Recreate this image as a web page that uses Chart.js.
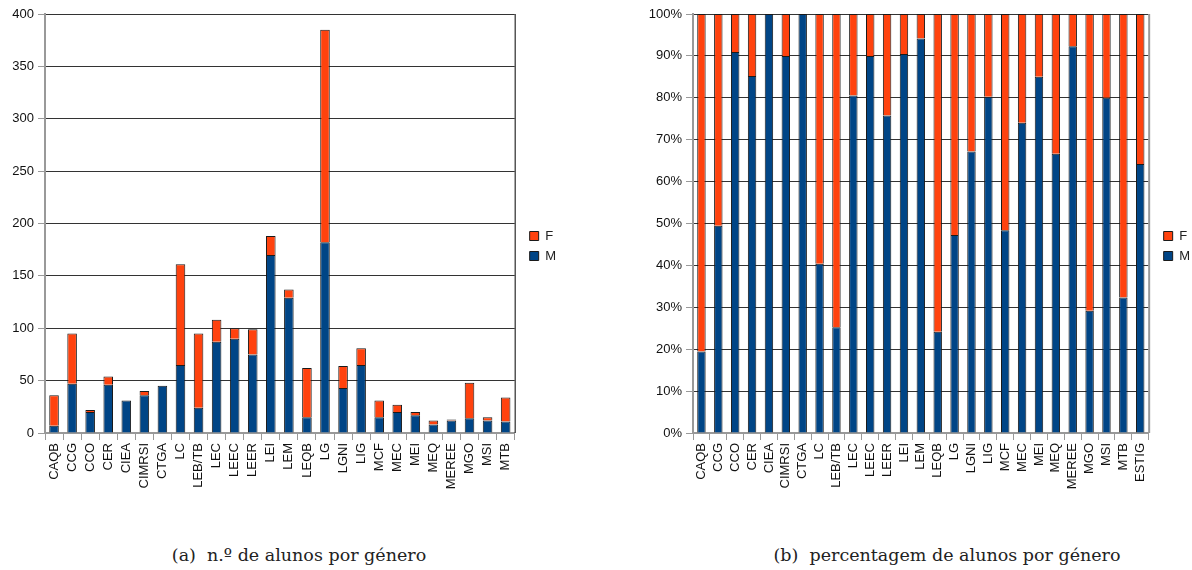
<!DOCTYPE html>
<html>
<head>
<meta charset="utf-8">
<script src="https://cdn.jsdelivr.net/npm/chart.js@4"></script>
<style>
  body { margin: 0; background: #fff; }
  #wrap { position: relative; width: 1192px; height: 570px; overflow: hidden; }
  .box { position: absolute; top: 0; height: 520px; }
  #boxA { left: 0; width: 566px; }
  #boxB { left: 640px; width: 560px; }
  .cap { position: absolute; top: 545px; width: 500px; text-align: center; font-family: "DejaVu Serif", serif;
         font-size: 17.5px; color: #222; white-space: nowrap; }
  #capA { left: 49px; }
  #capB { left: 697px; }
</style>
</head>
<body>
<div id="wrap">
  <div class="box" id="boxA"><canvas id="chartA"></canvas></div>
  <div class="box" id="boxB"><canvas id="chartB"></canvas></div>
  <div class="cap" id="capA">(a)&nbsp; n.º de alunos por género</div>
  <div class="cap" id="capB">(b)&nbsp; percentagem de alunos por género</div>
</div>
<script>
// cursos
const cursos = ['CAQB', 'CCG', 'CCO', 'CER', 'CIEA', 'CIMRSI', 'CTGA', 'LC', 'LEB/TB', 'LEC', 'LEEC', 'LEER', 'LEI',
    'LEM', 'LEQB', 'LG', 'LGNI', 'LIG', 'MCF', 'MEC', 'MEI', 'MEQ', 'MEREE', 'MGO', 'MSI', 'MTB'];
// n.º de alunos masculinos / femininos
const alunosM = [7, 47, 20, 46, 31, 36, 45, 65, 24, 87, 90, 75, 170, 129, 15, 182, 43, 65, 15, 20, 17, 8, 12, 14, 12, 11];
const alunosF = [29, 48, 2, 8, 0, 4, 0, 96, 71, 21, 10, 24, 18, 8, 47, 203, 21, 16, 16, 7, 3, 4, 1, 34, 3, 23];
const totalLabel = 'ESTIG';
const ticksContagem = { min: 0, max: 400, step: 50 };
const ticksPercent = { min: 0, max: 100, step: 10 };

const corM = '#004586';
const corF = '#ff420e';
const fonte = { family: '"Liberation Sans", Arial, sans-serif', size: 13 };

// percentagens (inclui o total da escola)
const somaM = alunosM.reduce((a, b) => a + b, 0);
const somaF = alunosF.reduce((a, b) => a + b, 0);
const cursosPct = cursos.concat([totalLabel]);
const mTotais = alunosM.concat([somaM]);
const fTotais = alunosF.concat([somaF]);
const pctM = mTotais.map((m, i) => m / (m + fTotais[i]) * 100);
const pctF = fTotais.map((f, i) => f / (mTotais[i] + f) * 100);

// moldura à direita da área do gráfico + legenda um pouco mais acima
const moldura = {
    id: 'moldura',
    afterLayout(chart, args, opts) {
        const lg = chart.legend;
        if (lg && opts.legendBottom) {
            lg.bottom = opts.legendBottom;
            lg.height = lg.bottom - lg.top;
        }
    },
    afterDraw(chart, args, opts) {
        const { ctx, chartArea } = chart;
        ctx.save();
        ctx.strokeStyle = opts.color || '#000';
        ctx.lineWidth = opts.width || 1;
        ctx.beginPath();
        ctx.moveTo(chartArea.right + 0.5, chartArea.top);
        ctx.lineTo(chartArea.right + 0.5, chartArea.bottom);
        ctx.stroke();
        ctx.restore();
    }
};

function criarGrafico(id, labels, dadosM, dadosF, escala, opts) {
    const ctx = document.getElementById(id).getContext('2d');
    return new Chart(ctx, {
        type: 'bar',
        data: {
            labels: labels,
            datasets: [
                { label: 'M', data: dadosM, backgroundColor: corM, borderColor: '#1a1a1a', borderWidth: 1,
                  barPercentage: opts.barPct, categoryPercentage: 1 },
                { label: 'F', data: dadosF, backgroundColor: corF, borderColor: '#1a1a1a', borderWidth: 1,
                  barPercentage: opts.barPct, categoryPercentage: 1 }
            ]
        },
        plugins: [moldura],
        options: {
            responsive: true,
            maintainAspectRatio: false,
            animation: false,
            layout: { padding: { top: 14, right: 0, left: 0, bottom: 0 } },
            plugins: {
                tooltip: { enabled: false },
                moldura: { color: opts.frameColor, width: opts.frameWidth, legendBottom: 478 },
                legend: {
                    position: 'right',
                    reverse: true,
                    labels: { boxWidth: 9, boxHeight: 9, padding: 7, color: '#222', font: fonte }
                }
            },
            scales: {
                x: {
                    stacked: true,
                    afterFit: s => { s.height = 87; },
                    grid: { display: true, drawOnChartArea: false, tickLength: 7, tickColor: '#999' },
                    border: { color: '#999', width: 2 },
                    ticks: { autoSkip: false, minRotation: 90, maxRotation: 90, padding: 3, color: '#111', font: fonte }
                },
                y: {
                    stacked: true,
                    min: escala.min,
                    max: escala.max,
                    afterFit: s => { s.width = opts.yWidth; },
                    grid: { color: '#333', lineWidth: 1, tickLength: 7, tickColor: '#999' },
                    border: { color: '#999', width: 2 },
                    ticks: {
                        stepSize: escala.step,
                        padding: 4,
                        color: '#111',
                        font: fonte,
                        callback: v => v + opts.suffix
                    }
                },
                // espaço vazio entre a área do gráfico e a legenda
                espaco: {
                    type: 'linear',
                    position: 'right',
                    afterFit: s => { s.width = 8; },
                    ticks: { display: false },
                    grid: { display: false },
                    border: { display: false }
                }
            }
        }
    });
}

criarGrafico('chartA', cursos, alunosM, alunosF, ticksContagem,
    { barPct: 0.53, yWidth: 45, suffix: '', frameColor: '#000', frameWidth: 1 });
criarGrafico('chartB', cursosPct, pctM, pctF, ticksPercent,
    { barPct: 0.5, yWidth: 53, suffix: '%', frameColor: '#999', frameWidth: 2 });
</script>
</body>
</html>
